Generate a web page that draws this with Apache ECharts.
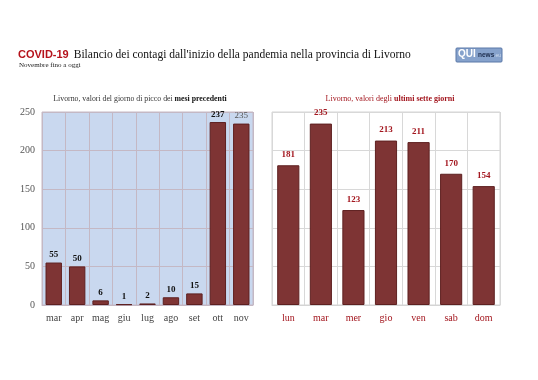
<!DOCTYPE html>
<html><head><meta charset="utf-8">
<script src="https://cdn.jsdelivr.net/npm/echarts@6/dist/echarts.min.js"></script>
<style>html,body{margin:0;padding:0;background:#fff}#c{width:538px;height:380px}</style>
</head><body><div id="c"></div>
<script>
const monthCats = ['mar','apr','mag','giu','lug','ago','set','ott','nov'];
const monthVals = [55,50,6,1,2,10,15,237,235];
const dayCats = ['lun','mar','mer','gio','ven','sab','dom'];
const dayVals = [181,235,123,213,211,170,154];
const yTicks = [0,50,100,150,200,250];

const serif = 'Liberation Serif';
const red = '#a3161e';
const barColor = '#7e3434';
const barBorder = '#5e2020';

const chart = echarts.init(document.getElementById('c'), null, {renderer:'canvas'});
chart.setOption({
  animation:false,
  backgroundColor:'#fff',
  title:[
    {left:13, top:41, text:'{a|COVID-19} {b|Bilancio dei contagi dall\'inizio della pandemia nella provincia di Livorno}',
      textStyle:{fontWeight:'normal',rich:{a:{fontFamily:'Liberation Sans',fontWeight:'bold',fontSize:11,color:'#b5121b'},
        b:{fontFamily:serif,fontWeight:'normal',fontSize:11.5,color:'#111'}}}},
    {left:14, top:57, text:'Novembre fino a oggi', textStyle:{fontFamily:serif,fontSize:7,fontWeight:'normal',color:'#222'}},
    {left:135, top:90, textAlign:'center', text:'Livorno, valori del giorno di picco dei {b|mesi precedenti}',
      textStyle:{fontFamily:serif,fontSize:7.8,fontWeight:'normal',color:'#333',rich:{b:{fontFamily:serif,fontSize:7.8,fontWeight:'bold',color:'#111'}}}},
    {left:385, top:90, textAlign:'center', text:'Livorno, valori degli {b|ultimi sette giorni}',
      textStyle:{fontFamily:serif,fontSize:8,fontWeight:'normal',color:red,rich:{b:{fontFamily:serif,fontSize:8,fontWeight:'bold',color:red}}}}
  ],
  graphic:[
    {type:'rect', shape:{x:456,y:48,width:46,height:14,r:1}, style:{fill:'#86a2cc',stroke:'#5a78a8'}},
    {type:'text', left:458, top:49, style:{text:'QUI',fontFamily:'Liberation Sans',fontWeight:'bold',fontSize:10,fill:'#fff'}},
    {type:'text', left:478, top:52, style:{text:'news',fontFamily:'Liberation Sans',fontWeight:'bold',fontSize:6.5,fill:'#1c2c4c'}},
    {type:'text', left:494, top:53, style:{text:'.eu',fontFamily:'Liberation Sans',fontSize:5,fill:'#d0dcee'}}
  ],
  grid:[
    {left:42, top:112, width:211, height:193, show:true, backgroundColor:'#c9d8ef', borderColor:'#c4b8c4', borderWidth:1},
    {left:272, top:112, width:228, height:193, show:true, backgroundColor:'#fff', borderColor:'#d4d4d4', borderWidth:1}
  ],
  xAxis:[
    {gridIndex:0, type:'category', data:monthCats, boundaryGap:true,
      axisLine:{show:true,lineStyle:{color:'#c4b8c4'}}, axisTick:{show:false},
      splitLine:{show:true,lineStyle:{color:'#c4b8c4',width:1}},
      axisLabel:{fontFamily:serif,fontSize:10,color:'#444',margin:8}},
    {gridIndex:1, type:'category', data:dayCats, boundaryGap:true,
      axisLine:{show:true,lineStyle:{color:'#d4d4d4'}}, axisTick:{show:false},
      splitLine:{show:true,lineStyle:{color:'#d8d8d8',width:1}},
      axisLabel:{fontFamily:serif,fontSize:10,color:red,margin:8}}
  ],
  yAxis:[
    {gridIndex:0, type:'value', min:yTicks[0], max:yTicks[yTicks.length-1], interval:50,
      axisLine:{show:false}, axisTick:{show:false},
      splitLine:{show:true,lineStyle:{color:'#c4b8c4'}},
      axisLabel:{fontFamily:serif,fontSize:10,color:'#555',margin:7}},
    {gridIndex:1, type:'value', min:yTicks[0], max:yTicks[yTicks.length-1], interval:50,
      axisLine:{show:false}, axisTick:{show:false}, axisLabel:{show:false},
      splitLine:{show:true,lineStyle:{color:'#d8d8d8'}}}
  ],
  series:[
    {type:'bar', xAxisIndex:0, yAxisIndex:0, barWidth:'70%',
      data:monthVals.map((v,i)=> i===monthVals.length-1 ? {value:v,label:{fontWeight:'normal',color:'#555'}} : v),
      itemStyle:{color:barColor,borderColor:barBorder,borderWidth:1},
      label:{show:true,position:'top',distance:3,fontFamily:serif,fontSize:9,fontWeight:'bold',color:'#111'}},
    {type:'bar', xAxisIndex:1, yAxisIndex:1, barWidth:'68%', data:dayVals,
      itemStyle:{color:barColor,borderColor:barBorder,borderWidth:1},
      label:{show:true,position:'top',distance:6,fontFamily:serif,fontSize:9,fontWeight:'bold',color:red}}
  ]
});
</script></body></html>
